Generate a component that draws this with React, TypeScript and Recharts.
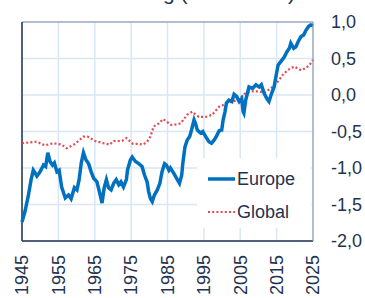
import { CartesianGrid, Legend, Line, LineChart, ReferenceLine, XAxis, YAxis } from "recharts"

const font = "'Liberation Sans', Arial, sans-serif"
const ink = "#1f3350"

const yearTicks = [1945, 1955, 1965, 1975, 1985, 1995, 2005, 2015, 2025]
const valueTicks = [-2, -1.5, -1, -0.5, 0, 0.5, 1]

// Europe, 12-month running mean
const europeYears = [
	1945.0, 1945.8, 1946.7, 1947.5, 1948.1, 1949.1, 1950.0, 1950.9, 1951.5, 1952.1, 1952.7, 1953.4, 1953.9, 1954.6,
	1955.2, 1955.9, 1956.9, 1957.8, 1958.5, 1959.4, 1960.1, 1960.7, 1961.3, 1961.9, 1962.6, 1963.3, 1964.0, 1964.7,
	1965.6, 1966.5, 1967.0, 1967.6, 1968.2, 1968.8, 1969.5, 1970.2, 1970.9, 1971.6, 1972.2, 1972.9, 1973.7, 1974.0,
	1974.8, 1975.3, 1976.2, 1977.1, 1978.0, 1978.7, 1979.4, 1979.8, 1980.3, 1980.8, 1981.4, 1982.2, 1982.9, 1983.5,
	1984.2, 1984.7, 1985.4, 1985.8, 1986.7, 1987.7, 1988.3, 1988.9, 1989.2, 1989.8, 1990.4, 1991.1, 1991.6, 1992.3,
	1992.7, 1993.2, 1994.1, 1994.7, 1995.5, 1996.4, 1997.1, 1997.8, 1998.4, 1999.2, 1999.9, 2000.3, 2000.8, 2001.2,
	2001.9, 2002.7, 2003.3, 2004.0, 2004.7, 2005.4, 2005.8, 2006.0, 2006.5, 2007.4, 2008.4, 2009.3, 2010.2, 2010.8,
	2011.6, 2012.3, 2012.9, 2013.6, 2014.3, 2014.8, 2015.4, 2016.2, 2017.1, 2017.8, 2018.5, 2018.9, 2019.7, 2020.3,
	2020.9, 2021.7, 2022.4, 2023.1, 2023.8, 2024.4, 2025.0,
]
const europeValues = [
	-1.74, -1.6, -1.39, -1.16, -1.03, -1.11, -1.05, -0.96, -0.98, -0.79, -0.91, -0.96, -0.93, -1.05,
	-1.03, -1.26, -1.41, -1.37, -1.42, -1.27, -1.3, -1.16, -0.93, -0.79, -0.89, -0.94, -1.05, -1.14,
	-1.19, -1.37, -1.48, -1.27, -1.16, -1.27, -1.3, -1.21, -1.16, -1.23, -1.19, -1.26, -1.16, -1.03,
	-0.89, -0.85, -0.91, -0.94, -0.98, -1.1, -1.19, -1.32, -1.42, -1.46, -1.37, -1.3, -1.21, -1.05,
	-0.94, -0.96, -1.03, -1.0, -1.07, -1.16, -1.21, -1.1, -0.94, -0.71, -0.62, -0.57, -0.48, -0.34,
	-0.39, -0.48, -0.52, -0.5, -0.57, -0.64, -0.66, -0.62, -0.57, -0.49, -0.48, -0.34, -0.23, -0.11,
	-0.07, -0.09, 0.01, -0.02, -0.09, -0.05, -0.23, -0.25, -0.07, 0.11, 0.09, 0.14, 0.11, 0.14,
	0.02, -0.05, -0.09, 0.02, 0.11, 0.25, 0.41, 0.46, 0.52, 0.59, 0.64, 0.71, 0.64, 0.66,
	0.73, 0.8, 0.82, 0.89, 0.94, 0.96, 0.95,
]

// Global
const globalYears = [
	1945, 1949, 1951.3, 1953.6, 1955.9, 1957.3, 1959.6, 1961.9, 1963, 1965.1, 1967.4, 1969.1, 1970.2, 1972.5,
	1973.7, 1975.5, 1977.1, 1978.3, 1979.4, 1980.3, 1981.2, 1982.6, 1983.8, 1984.9, 1986, 1987.7, 1988.6, 1990.4,
	1991.8, 1993.6, 1995.5, 1997.3, 1999.2, 2001.5, 2004.2, 2006.5, 2008.4, 2010.2, 2011.6, 2013.4, 2015.3, 2016.6,
	2018, 2019.8, 2021.7, 2023.1, 2024, 2025,
]
const globalValues = [
	-0.66, -0.64, -0.69, -0.66, -0.68, -0.73, -0.67, -0.57, -0.57, -0.63, -0.66, -0.68, -0.63, -0.63,
	-0.59, -0.67, -0.67, -0.68, -0.64, -0.57, -0.43, -0.39, -0.33, -0.37, -0.41, -0.4, -0.39, -0.27,
	-0.23, -0.3, -0.3, -0.27, -0.16, -0.11, -0.07, 0.03, 0.05, 0.05, 0.03, 0.09, 0.18, 0.27,
	0.34, 0.39, 0.34, 0.37, 0.41, 0.48,
]

const europe = europeYears.map((year, i) => ({ year, value: europeValues[i] }))
const global = globalYears.map((year, i) => ({ year, value: globalValues[i] }))

const fmt = (v: number) => v.toFixed(1).replace(".", ",")

const YearTick = ({ x, y, payload }: any) => (
	<text
		x={x}
		y={y + 14}
		transform={`rotate(-90 ${x} ${y + 14})`}
		textAnchor="end"
		dy="0.35em"
		fill={ink}
		fontSize={18}
		fontFamily={font}
	>
		{payload.value}
	</text>
)

const LegendBox = () => (
	<svg width={114} height={70} style={{ display: "block", background: "#fff" }}>
		<line x1={11} x2={38} y1={21} y2={21} stroke="#0070c0" strokeWidth={3.5} />
		<text x={40} y={27} fill={ink} fontSize={18} fontFamily={font}>
			Europe
		</text>
		<line x1={11} x2={38} y1={54} y2={54} stroke="#e84850" strokeWidth={2.2} strokeDasharray="2 2.2" />
		<text x={40} y={60} fill={ink} fontSize={18} fontFamily={font}>
			Global
		</text>
	</svg>
)

export default function App() {
	return (
		<div style={{ position: "absolute", left: 0, top: 0, width: 365, height: 298, overflow: "hidden", background: "#fff" }}>
			{/* title sits above the visible area, only descenders show */}
			<svg width={365} height={20} style={{ position: "absolute", left: 0, top: 0 }}>
				<text x={295} y={-0.5} textAnchor="end" fill={ink} fontSize={21} fontFamily={font}>
					Erwärmung (1991-2020)
				</text>
			</svg>
			<LineChart width={365} height={298} margin={{ top: 22, right: 0, bottom: 0, left: 22 }}>
				<CartesianGrid stroke="#d9e6f4" strokeWidth={1.5} />
				<XAxis
					dataKey="year"
					type="number"
					domain={[1945, 2025]}
					ticks={yearTicks}
					height={57}
					axisLine={{ stroke: ink, strokeWidth: 1.5 }}
					tickLine={false}
					tickSize={0}
					tickMargin={0}
					tick={<YearTick />}
					interval={0}
				/>
				<YAxis
					orientation="right"
					domain={[-2, 1]}
					ticks={valueTicks}
					width={52}
					axisLine={{ stroke: "#8090a8", strokeWidth: 1 }}
					tickLine={false}
					tickSize={0}
					tickMargin={18}
					tickFormatter={fmt}
					tick={{ fill: ink, fontSize: 18, fontFamily: font }}
					interval={0}
				/>
				<ReferenceLine y={1} stroke="#8090a8" strokeWidth={1} />
				<ReferenceLine x={1945} stroke={ink} strokeWidth={1.5} />
				<Line
					data={global}
					dataKey="value"
					name="Global"
					stroke="#e84850"
					strokeWidth={2.2}
					strokeDasharray="2 2.2"
					dot={false}
					type="linear"
					isAnimationActive={false}
				/>
				<Line
					data={europe}
					dataKey="value"
					name="Europe"
					stroke="#0070c0"
					strokeWidth={3.5}
					dot={false}
					type="linear"
					isAnimationActive={false}
				/>
				<Legend
					layout="horizontal"
					verticalAlign="middle"
					align="center"
					content={<LegendBox />}
					wrapperStyle={{ position: "absolute", left: 197, top: 158, width: 114, height: 70 }}
				/>
			</LineChart>
		</div>
	)
}
